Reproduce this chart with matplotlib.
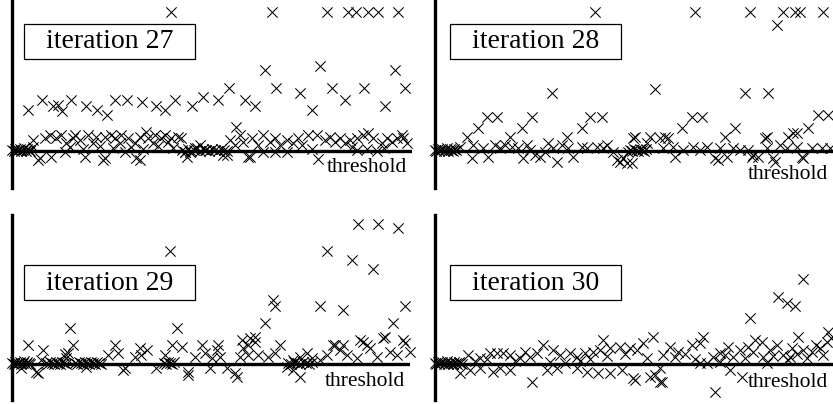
import numpy as np
import matplotlib.pyplot as plt
from matplotlib.patches import Rectangle

plt.rcParams['font.family'] = ['Liberation Serif', 'DejaVu Serif']

# (rank, score) pairs per iteration; threshold is at score 0
it27_pts = [
    (0, 1), (1.5, 0), (3, 2), (4.5, 0), (6, 1), (7.5, 2), (9, 0), (10.5, 1), (12, 3), (13.5, 0), (15, 2), (16.5, 1), (18, 0),
    (170, 1), (173, -1), (176, 2), (179, 0), (182, 1), (185, 3), (188, 0), (191, 2), (194, 1), (197, 0), (200, 2),
    (203, 1), (206, 0), (209, 2), (212, 1), (215, 0),
    (159, 139), (260, 139), (315, 139), (336, 139), (344, 139), (356, 139), (366, 139), (386, 139),
    (253, 81), (308, 85), (383, 81),
    (16, 41), (30, 51), (41, 45), (46, 46), (50, 40), (59, 51), (74, 45), (85, 41), (95, 36), (103, 51), (115, 51),
    (130, 49), (144, 45), (153, 41), (163, 51), (180, 45), (191, 54), (206, 51), (217, 63), (233, 51), (243, 45),
    (264, 63), (288, 58), (300, 41), (320, 63), (333, 51), (352, 63), (373, 45), (393, 63), (224, 24),
    (21, 11), (21, 4), (28, -7), (33, 13), (38, 16), (39, -6), (44, 13), (49, 16), (54, 8), (53, -1), (61, 13),
    (63, 16), (68, 11), (73, -6), (76, 16), (81, 8), (84, 14), (93, -7), (93, 14), (99, 16), (103, 13), (108, 8),
    (109, 16), (113, -1), (116, 13), (123, 8), (124, -7), (128, 14), (134, 19), (136, 13), (141, 8), (143, 16),
    (149, 13), (153, 16), (156, 9), (159, 13), (166, 14), (169, 13), (173, -1), (178, -1), (183, 3), (188, 6), (193, 1),
    (26, -9), (91, -9), (128, -9), (175, -6), (215, -4), (236, -6), (306, -8),
    (211, -4), (218, 11), (223, 6), (228, 16), (231, 9), (238, -6), (240, 13), (246, 6), (251, 16), (258, 9),
    (263, 13), (268, 6), (275, 11), (281, 8), (286, 13), (290, 6), (296, 16), (305, 16), (313, 11), (318, 14),
    (323, 9), (328, 13), (333, 8), (338, 11), (345, 13), (351, 16), (356, 18), (361, 13), (370, 8), (375, 13),
    (380, 9), (385, 13), (390, 16), (391, 13), (395, 8), (251, -1), (275, -1), (263, -1), (345, 1), (355, 2), (365, 0),
    (58, 4), (71, 2), (88, 5), (101, 3), (119, 4), (131, 2), (146, 5), (161, 3), (300, 2), (340, 4), (372, 3),
]

it28_pts = [
    (0, 1), (1.5, 0), (3, 2), (4.5, 0), (6, 1), (7.5, 2), (9, 0), (10.5, 1), (12, 3), (13.5, 0), (15, 2), (16.5, 1),
    (18, 0), (19.5, 2), (21, 1),
    (195, 1), (197, 0), (199, 2), (201, 1), (203, 0), (205, 2), (207, 1), (209, 0), (211, 2),
    (160, 139), (260, 139), (315, 139), (348, 139), (360, 139), (365, 139), (388, 139), (342, 126),
    (117, 58), (220, 62), (310, 58), (333, 58),
    (52, 34), (62, 34), (97, 34), (155, 34), (167, 34), (257, 34), (267, 34), (383, 36), (393, 36),
    (43, 23), (87, 23), (147, 23), (247, 23), (300, 23), (373, 23), (362, 18),
    (32, 14), (75, 14), (132, 14), (200, 14), (215, 14), (230, 14), (290, 14), (332, 14), (353, 14),
    (113, 8), (25, 4), (37, -7), (38, 6), (48, 3), (53, -6), (60, 6), (65, 3), (70, 6), (77, 4), (83, 3), (88, -7),
    (92, 6), (95, 1), (100, -4), (105, -6), (110, -1), (118, 3), (122, -11), (127, 6), (133, 3), (138, -6), (147, 4),
    (152, 3), (162, 4), (168, 3), (172, 6), (178, -1), (182, -9), (188, -7), (193, -1),
    (185, -11), (192, -12), (240, -6), (283, -9), (340, -11), (367, -6), (317, -6),
    (198, 13), (225, 13), (233, 13), (330, 13), (358, 18), (212, 8), (228, 3), (238, 4), (248, 1), (258, 4), (265, 1),
    (272, 4), (280, -7), (285, 3), (292, -6), (298, 3), (305, 1), (313, 1), (318, -4), (323, -6), (332, 3), (338, -7),
    (345, 6), (352, 3), (362, 4), (368, -7), (377, 3), (387, 3), (395, 3), (197, -12),
]

it29_pts = [
    (0, 1), (1.5, 0), (3, 2), (4.5, 0), (6, 1), (7.5, 2), (9, 0), (10.5, 1), (12, 3), (13.5, 0), (15, 2), (16.5, 1), (18, 0),
    (34, 1), (36, 0), (38, 2), (40, 1), (42, 0), (44, 2), (46, 1), (48, 0), (50, 2), (52, 1), (54, 0),
    (63, 1), (65, 0), (67, 2), (69, 1), (71, 0), (73, 2), (75, 1), (77, 0), (79, 2), (81, 1), (83, 0), (85, 2),
    (87, 1), (89, 0),
    (152, 1), (154, 0), (156, 2), (158, 1), (160, 0), (162, 2),
    (276, 1), (279, 0), (282, 2), (285, 1), (288, 0), (291, 2), (294, 1), (297, 0), (300, 2),
    (346, 140), (366, 140), (386, 136), (158, 113), (315, 113), (340, 104), (361, 95),
    (261, 64), (263, 58), (308, 58), (331, 54), (393, 58),
    (58, 36), (165, 36), (253, 41), (381, 41),
    (16, 19), (31, 14), (61, 19), (53, 10), (103, 19), (128, 16), (135, 14), (160, 19), (170, 17), (190, 19),
    (206, 19), (230, 24), (243, 27), (236, 19), (268, 19), (321, 19), (331, 19), (348, 24), (355, 19), (373, 27),
    (393, 21),
    (56, 11), (54, 6), (29, 4), (96, 9), (106, 11), (123, 7), (129, 9), (153, 9), (183, 7), (193, 11),
    (24, -8), (9, -4), (176, -8), (176, -11), (113, -4), (74, -3), (144, -4), (225, -13), (288, -13), (26, -9),
    (111, -6), (198, -4),
    (205, 14), (238, 26), (243, 22), (231, 16), (200, 6), (208, 7), (228, 7), (236, 9), (246, 9), (256, 7),
    (263, 11), (281, 4), (288, 7), (295, 11), (300, 6), (308, 4), (315, 9), (323, 19), (328, 14), (335, 9),
    (345, 6), (351, 22), (358, 16), (365, 7), (371, 26), (378, 12), (385, 9), (391, 24), (398, 12),
    (215, -4), (223, -9), (275, -3), (281, -6),
]

it30_pts = [
    (0, 1), (1.5, 0), (3, 2), (4.5, 0), (6, 1), (7.5, 2), (9, 0), (10.5, 1), (12, 3), (13.5, 0), (15, 2), (16.5, 1),
    (18, 0), (19.5, 2), (21, 1), (22.5, 0), (24, 2), (25.5, 1), (27, 0),
    (368, 85), (343, 67), (352, 61), (360, 58), (315, 46), (393, 32), (218, 27), (108, 19), (168, 24), (268, 27),
    (363, 27),
    (97, -18), (280, -28), (200, -16), (225, -18), (307, -13),
    (33, 9), (45, 6), (55, 11), (62, 11), (68, 11), (75, 9), (85, 6), (95, 7), (102, 11), (125, 9), (135, 11),
    (142, 7), (150, 11), (158, 12), (165, 14), (175, 16), (185, 17), (195, 16),
    (25, -9), (35, -6), (45, -4), (58, -8), (65, -4), (75, -6), (112, -6), (122, -4), (142, -4), (152, -8),
    (163, -9), (175, -9), (187, -6),
    (208, 21), (202, 14), (235, 17), (243, 12), (257, 19), (265, 21), (285, 11), (293, 17), (305, 14), (313, 17),
    (320, 24), (327, 22), (335, 14), (342, 19), (348, 9), (357, 16), (368, 14), (377, 12), (385, 16), (392, 22),
    (228, 9), (240, 7), (278, 7), (298, 7), (328, 7), (355, 7),
    (265, 1), (272, 1), (285, 2), (332, 1), (353, 4), (115, 2), (130, 1), (145, 3),
    (198, -14), (215, -13), (220, -11), (227, -18), (295, -6), (225, -4),
    (40, 3), (52, 5), (80, 3), (90, 12), (118, 14), (155, 5), (172, 8), (190, 10), (212, 6), (250, 10), (260, 5),
    (290, 9), (310, 6), (318, 12), (338, 8), (362, 10), (372, 6), (381, 19), (388, 9), (396, 26),
]

iterations = [27, 28, 29, 30]
all_pts = [it27_pts, it28_pts, it29_pts, it30_pts]

W, H = 833, 404
# panel frames in pixels: left, top, width, height, threshold row
frames = [(12, 0, 400, 188, 151), (435, 0, 398, 188, 151),
          (12, 215, 398, 185, 364), (435, 215, 398, 185, 364)]
label_top = [-7, -14, -8, -9]

fig = plt.figure(figsize=(W / 100, H / 100), dpi=100)

for i, (left, top, w, h, thr) in enumerate(frames):
    ax = fig.add_axes([left / W, (H - top - h) / H, w / W, h / H])
    ax.set_xlim(0, w)
    ax.set_ylim(-(top + h - thr), thr - top)
    for s in ['top', 'right', 'bottom']:
        ax.spines[s].set_visible(False)
    ax.spines['left'].set_linewidth(2.4)
    ax.set_xticks([])
    ax.set_yticks([])
    ax.patch.set_visible(False)

    x, y = zip(*all_pts[i])
    ax.scatter(x, y, marker='x', s=55, c='black', linewidths=0.75, clip_on=False, zorder=3)
    ax.axhline(0, color='black', lw=2.4, zorder=4)

    # label box
    bx = 12 if i % 2 == 0 else 15
    by = (thr - 59) if i < 2 else (thr - 300)
    ax.add_patch(Rectangle((bx, by), 171, 35, fill=False, edgecolor='black', lw=0.9, zorder=5))
    ax.text(bx + 85.5, by + 17, f"iteration {iterations[i]}", ha='center', va='center',
            fontsize=20, zorder=6)
    ax.text(w - 5, label_top[i], "threshold", ha='right', va='top', fontsize=15.5, zorder=6)

fig.savefig("out.png", dpi=100)
